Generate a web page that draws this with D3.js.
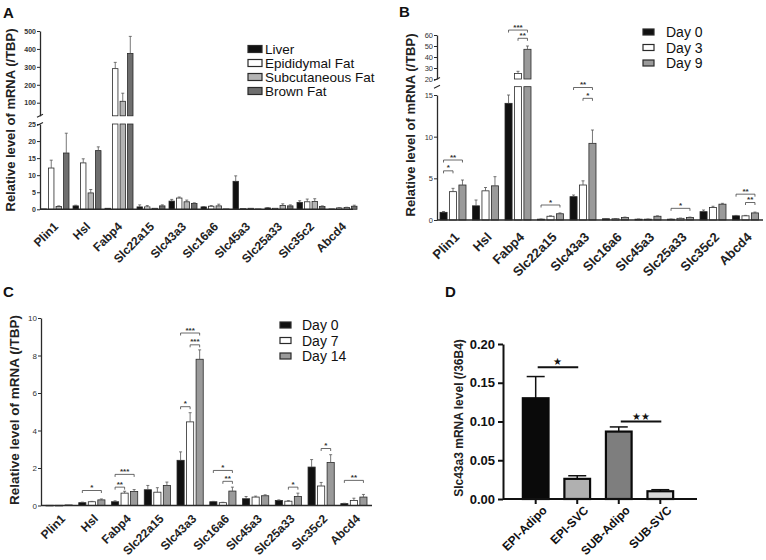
<!DOCTYPE html>
<html><head><meta charset="utf-8">
<script src="https://cdn.jsdelivr.net/npm/d3@7"></script>
<style>
body{margin:0;background:#fff;}
text{font-family:Arial,"Liberation Sans",sans-serif;}
</style></head><body>
<svg id="chart" width="766" height="560"></svg>
<script>
// ---------- DATA ----------
const genes = ["Plin1","Hsl","Fabp4","Slc22a15","Slc43a3","Slc16a6","Slc45a3","Slc25a33","Slc35c2","Abcd4"];

// Panel A: tissues
const tissuesA = ["Liver","Epididymal Fat","Subcutaneous Fat","Brown Fat"];
const liverA    = [0.1, 1.0, 0.3, 0.7, 2.4, 0.7, 8.2, 0.4, 2.0, 0.1];
const liverSemA = [0, 0.2, 0, 0.6, 0.5, 0.1, 1.6, 0.1, 0.5, 0];
const epiA      = [12.1, 13.6, 290, 0.7, 3.3, 0.9, 0.2, 0.3, 2.2, 0.4];
const epiSemA   = [2.3, 1.2, 35, 0.4, 0.3, 0.2, 0, 0, 0.8, 0.1];
const subA      = [0.8, 4.8, 108, 0.3, 2.2, 1.0, 0.3, 1.1, 2.3, 0.5];
const subSemA   = [0.2, 1.0, 45, 0, 0.5, 0.5, 0, 0.5, 0.8, 0.1];
const brownA    = [16.5, 17.2, 375, 1.0, 1.7, 0.1, 0.1, 1.0, 0.8, 0.9];
const brownSemA = [5.8, 1.1, 95, 0.3, 0.2, 0, 0, 0.3, 0.2, 0.3];
const ticksA_low = [0,5,10,15,20,25];
const ticksA_up  = [100,200,300,400,500];

// Panel B: differentiation days
const daysB = ["Day 0","Day 3","Day 9"];
const d0B    = [0.92, 1.7, 14.0, 0.1, 2.8, 0.15, 0.1, 0.1, 1.0, 0.5];
const d0SemB = [0.1, 0.7, 1.0, 0.02, 0.2, 0.03, 0.02, 0.02, 0.2, 0.05];
const d3B    = [3.4, 3.5, 25, 0.45, 4.2, 0.15, 0.1, 0.2, 1.5, 0.5];
const d3SemB = [0.4, 0.4, 2, 0.05, 0.5, 0.03, 0.02, 0.03, 0.15, 0.05];
const d9B    = [4.2, 4.1, 47, 0.75, 9.2, 0.3, 0.45, 0.3, 1.9, 0.85];
const d9SemB = [0.6, 1.1, 3, 0.1, 1.6, 0.05, 0.05, 0.05, 0.1, 0.1];
const ticksB_low = [0,5,10,15];
const ticksB_up  = [20,30,40,50,60];
const sigB = [
  {gene:"Plin1", a:0, b:1, y:5.9, label:"*"},
  {gene:"Plin1", a:0, b:2, y:7.2, label:"**"},
  {gene:"Fabp4", a:0, b:2, y:64.5, label:"***"},
  {gene:"Fabp4", a:1, b:2, y:57, label:"**"},
  {gene:"Slc22a15", a:0, b:2, y:1.8, label:"*"},
  {gene:"Slc43a3", a:0, b:2, y:15.9, label:"**"},
  {gene:"Slc43a3", a:1, b:2, y:14.6, label:"*"},
  {gene:"Slc25a33", a:0, b:2, y:1.4, label:"*"},
  {gene:"Abcd4", a:0, b:2, y:3.1, label:"**"},
  {gene:"Abcd4", a:1, b:2, y:2.1, label:"**"}
];

// Panel C
const daysC = ["Day 0","Day 7","Day 14"];
const d0C     = [0.01, 0.15, 0.2, 0.84, 2.41, 0.2, 0.36, 0.27, 2.05, 0.1];
const d0SemC  = [0, 0.03, 0.05, 0.23, 0.45, 0.02, 0.12, 0.03, 0.4, 0.02];
const d7C     = [0.01, 0.2, 0.66, 0.71, 4.46, 0.15, 0.45, 0.23, 1.04, 0.27];
const d7SemC  = [0, 0.02, 0.1, 0.24, 0.49, 0.02, 0.05, 0.03, 0.19, 0.12];
const d14C    = [0.03, 0.3, 0.75, 1.07, 7.8, 0.77, 0.52, 0.48, 2.29, 0.45];
const d14SemC = [0, 0.05, 0.1, 0.18, 0.5, 0.21, 0.05, 0.18, 0.42, 0.14];
const ticksC = [0,2,4,6,8,10];
const sigC = [
  {gene:"Hsl", a:0, b:2, y:0.8, label:"*"},
  {gene:"Fabp4", a:0, b:1, y:0.98, label:"**"},
  {gene:"Fabp4", a:0, b:2, y:1.66, label:"***"},
  {gene:"Slc43a3", a:0, b:1, y:5.27, label:"*"},
  {gene:"Slc43a3", a:0, b:2, y:9.2, label:"***"},
  {gene:"Slc43a3", a:1, b:2, y:8.57, label:"***"},
  {gene:"Slc16a6", a:0, b:2, y:1.87, label:"*"},
  {gene:"Slc16a6", a:1, b:2, y:1.29, label:"**"},
  {gene:"Slc25a33", a:1, b:2, y:0.98, label:"*"},
  {gene:"Slc35c2", a:1, b:2, y:3.04, label:"*"},
  {gene:"Abcd4", a:0, b:2, y:1.34, label:"**"}
];

// Panel D
const cellsD = ["EPI-Adipo","EPI-SVC","SUB-Adipo","SUB-SVC"];
const valD   = [0.130, 0.026, 0.087, 0.010];
const semD   = [0.028, 0.004, 0.006, 0.002];
const ticksD = [0, 0.05, 0.10, 0.15, 0.20];
const sigD = [
  {a:0, b:1, y:0.170, label:"★"},
  {a:2, b:3, y:0.100, label:"★★"}
];

// ---------- DRAW ----------
const svg = d3.select("#chart");
const INK = "#2a2a2a";

function panelLetter(t, x, y){
  svg.append("text").attr("x",x).attr("y",y).text(t)
    .attr("font-size",15).attr("font-weight","bold").attr("fill","#111");
}
function yTitle(t, x, y, size){
  svg.append("text").attr("transform",`translate(${x},${y}) rotate(-90)`)
    .attr("text-anchor","middle").attr("font-size",size).attr("font-weight","bold")
    .attr("fill","#222").text(t);
}

function drawGrouped(o){
  const g = svg.append("g");
  const x0 = d3.scaleBand().domain(genes).range(o.xRange).paddingInner(o.padInner).paddingOuter(0);
  const x1 = d3.scaleBand().domain(d3.range(o.series.length)).range([0,x0.bandwidth()]).paddingInner(o.padBar).paddingOuter(0);
  const segOf = v => { for (const s of o.segs) if (v <= s.hi) return s; return o.segs[o.segs.length-1]; };
  // bars
  o.series.forEach((name,j)=>{
    genes.forEach((gene,i)=>{
      const v = o.vals[j][i];
      const bx = x0(gene)+x1(j);
      o.segs.forEach(s=>{
        if (v > s.lo){
          const top = Math.min(v, s.hi);
          g.append("rect").attr("x",bx).attr("width",x1.bandwidth())
            .attr("y",s.scale(top)).attr("height",Math.max(0.6, s.scale(s.lo)-s.scale(top)))
            .attr("fill",o.fills[j]).attr("stroke",INK).attr("stroke-width",0.8);
        }
      });
      const sem = o.sems[j][i];
      if (sem > 0){
        const s = segOf(v);
        const cx = bx + x1.bandwidth()/2;
        g.append("line").attr("x1",cx).attr("x2",cx).attr("y1",s.scale(v)).attr("y2",s.scale(v+sem))
          .attr("stroke","#555").attr("stroke-width",0.8);
        g.append("line").attr("x1",cx-1.5).attr("x2",cx+1.5).attr("y1",s.scale(v+sem)).attr("y2",s.scale(v+sem))
          .attr("stroke","#555").attr("stroke-width",0.8);
      }
    });
  });
  // y axes per segment
  o.segs.forEach(s=>{
    const ax = g.append("g").attr("transform",`translate(${o.axisX},0)`)
      .call(d3.axisLeft(s.scale).tickValues(s.ticks).tickSize(3).tickSizeOuter(0).tickFormat(d3.format("d")));
    ax.select(".domain").attr("stroke",INK).attr("stroke-width",1.3);
    ax.selectAll(".tick line").attr("stroke",INK).attr("stroke-width",1);
    ax.selectAll(".tick text").attr("font-size",o.tickSize).attr("font-weight",o.tickWeight)
      .attr("fill","#333").attr("x",-4).attr("font-family","Arial,'Liberation Sans',sans-serif");
  });
  // break marks
  if (o.segs.length>1){
    [o.segs[0].scale(o.segs[0].hi), o.segs[1].scale(o.segs[1].lo)].forEach(yb=>{
      g.append("line").attr("x1",o.axisX-3).attr("x2",o.axisX+3).attr("y1",yb+1.5).attr("y2",yb-1.5)
        .attr("stroke",INK).attr("stroke-width",1.2);
    });
  }
  // x axis line
  const y0 = o.segs[0].scale(0);
  g.append("line").attr("x1",o.axisX).attr("x2",o.axisEnd).attr("y1",y0).attr("y2",y0)
    .attr("stroke",INK).attr("stroke-width",1.5);
  // category labels
  genes.forEach(gene=>{
    const cx = x0(gene)+x0.bandwidth()/2;
    g.append("text").attr("transform",`translate(${cx+o.lblDx},${y0+o.lblDy}) rotate(-45)`)
      .attr("text-anchor","end").attr("font-size",o.lblSize).attr("font-weight","bold")
      .attr("fill","#222").text(gene);
  });
  // significance brackets
  (o.sig||[]).forEach(sg=>{
    const xa = x0(sg.gene)+x1(sg.a)+x1.bandwidth()/2;
    const xb = x0(sg.gene)+x1(sg.b)+x1.bandwidth()/2;
    const yy = segOf(sg.y).scale(sg.y);
    g.append("path").attr("d",`M${xa},${yy+2.5}V${yy}H${xb}V${yy+2.5}`)
      .attr("fill","none").attr("stroke","#444").attr("stroke-width",0.8);
    g.append("text").attr("x",(xa+xb)/2).attr("y",yy-0.5).attr("text-anchor","middle")
      .attr("font-size",8).attr("font-weight","bold").attr("fill","#333").text(sg.label);
  });
  // legend
  o.series.forEach((name,j)=>{
    const ly = o.leg.y + j*o.leg.dy;
    g.append("rect").attr("x",o.leg.x).attr("y",ly-o.leg.h/2).attr("width",o.leg.w).attr("height",o.leg.h)
      .attr("fill",o.fills[j]).attr("stroke",INK).attr("stroke-width",1.2);
    g.append("text").attr("x",o.leg.tx).attr("y",ly).attr("dy","0.36em")
      .attr("font-size",o.leg.fs).attr("fill","#111").text(name);
  });
}

// ----- Panel A -----
panelLetter("A", 3, 18);
yTitle("Relative level of mRNA (/TBP)", 15, 120, 13);
drawGrouped({
  series: tissuesA,
  vals: [liverA, epiA, subA, brownA],
  sems: [liverSemA, epiSemA, subSemA, brownSemA],
  fills: ["#111","#fff","#b4b4b4","#6e6e6e"],
  xRange: [41, 357], padInner: 0.125, padBar: 0.28,
  segs: [
    {lo:0, hi:25, scale:d3.scaleLinear().domain([0,25]).range([209.3,124]), ticks:ticksA_low},
    {lo:27, hi:500, scale:d3.scaleLinear().domain([27,500]).range([115.8,31]), ticks:ticksA_up}
  ],
  axisX: 40, axisEnd: 353,
  tickSize: 7, tickWeight: "bold",
  lblDx: 4, lblDy: 18, lblSize: 12,
  leg: {x:248, y:49, dy:14, w:14, h:7, tx:265, fs:13.5}
});

// ----- Panel B -----
panelLetter("B", 399, 17);
yTitle("Relative level of mRNA (/TBP)", 415, 125, 13);
drawGrouped({
  series: daysB,
  vals: [d0B, d3B, d9B],
  sems: [d0SemB, d3SemB, d9SemB],
  fills: ["#111","#fff","#9a9a9a"],
  xRange: [440, 758.5], padInner: 0.2, padBar: 0.25,
  segs: [
    {lo:0, hi:16, scale:d3.scaleLinear().domain([0,15]).range([220,95]), ticks:ticksB_low},
    {lo:20, hi:60, scale:d3.scaleLinear().domain([20,60]).range([79,35]), ticks:ticksB_up}
  ],
  axisX: 437, axisEnd: 763,
  tickSize: 7.5, tickWeight: "normal",
  lblDx: 7, lblDy: 18, lblSize: 13,
  sig: sigB,
  leg: {x:643, y:32, dy:15.5, w:11, h:6, tx:666, fs:14}
});

// ----- Panel C -----
panelLetter("C", 3, 297);
yTitle("Relative level of mRNA (/TBP)", 19, 410, 13.5);
drawGrouped({
  series: daysC,
  vals: [d0C, d7C, d14C],
  sems: [d0SemC, d7SemC, d14SemC],
  fills: ["#111","#fff","#9a9a9a"],
  xRange: [46, 367], padInner: 0.2, padBar: 0.25,
  segs: [
    {lo:0, hi:10, scale:d3.scaleLinear().domain([0,10]).range([505.5,318]), ticks:ticksC}
  ],
  axisX: 41, axisEnd: 372,
  tickSize: 8, tickWeight: "normal",
  lblDx: 7, lblDy: 14, lblSize: 12,
  sig: sigC,
  leg: {x:280, y:325, dy:15.5, w:11, h:6, tx:302, fs:14}
});

// ----- Panel D -----
panelLetter("D", 445, 297);
yTitle("Slc43a3 mRNA level (/36B4)", 462.5, 418, 12);
(function(){
  const g = svg.append("g");
  const x = d3.scaleBand().domain(cellsD).range([508, 688]).padding(1/3);
  const y = d3.scaleLinear().domain([0,0.20]).range([499,344]);
  const fills = ["#0a0a0a","#b0b0b0","#7e7e7e","#d9d9d9"];
  cellsD.forEach((c,i)=>{
    const cx = x(c)+x.bandwidth()/2;
    g.append("line").attr("x1",cx).attr("x2",cx).attr("y1",y(valD[i])).attr("y2",y(valD[i]+semD[i]))
      .attr("stroke","#111").attr("stroke-width",1.5);
    g.append("line").attr("x1",cx-9).attr("x2",cx+9).attr("y1",y(valD[i]+semD[i])).attr("y2",y(valD[i]+semD[i]))
      .attr("stroke","#111").attr("stroke-width",1.5);
    g.append("rect").attr("x",x(c)+1).attr("width",x.bandwidth()-2)
      .attr("y",y(valD[i])).attr("height",y(0)-y(valD[i]))
      .attr("fill",fills[i]).attr("stroke","#0a0a0a").attr("stroke-width",2.2);
  });
  const ya = g.append("g").attr("transform","translate(503,0)")
    .call(d3.axisLeft(y).tickValues(ticksD).tickSize(5).tickSizeOuter(0).tickFormat(d3.format(".2f")));
  ya.select(".domain").attr("stroke","#111").attr("stroke-width",2);
  ya.selectAll(".tick line").attr("stroke","#111").attr("stroke-width",2);
  ya.selectAll(".tick text").attr("font-size",13).attr("font-weight","bold").attr("fill","#111")
    .attr("x",-8).attr("font-family","Arial,'Liberation Sans',sans-serif");
  const xa = g.append("g").attr("transform","translate(0,499)")
    .call(d3.axisBottom(x).tickSize(5).tickSizeOuter(0).tickFormat(""));
  xa.select(".domain").attr("d","M503,0H697").attr("stroke","#111").attr("stroke-width",2);
  xa.selectAll(".tick line").attr("stroke","#111").attr("stroke-width",2);
  cellsD.forEach(c=>{
    const cx = x(c)+x.bandwidth()/2;
    g.append("text").attr("transform",`translate(${cx+12},${499+12}) rotate(-45)`)
      .attr("text-anchor","end").attr("font-size",12).attr("font-weight","bold").attr("fill","#111").text(c);
  });
  sigD.forEach(s=>{
    const xa1 = x(cellsD[s.a])+x.bandwidth()/2+2;
    const xb1 = x(cellsD[s.b])+x.bandwidth()/2+1;
    g.append("line").attr("x1",xa1).attr("x2",xb1).attr("y1",y(s.y)).attr("y2",y(s.y))
      .attr("stroke","#111").attr("stroke-width",1.8);
    g.append("text").attr("x",(xa1+xb1)/2).attr("y",y(s.y)-2).attr("text-anchor","middle")
      .attr("font-size",10).attr("fill","#111").attr("font-family","DejaVu Sans").text(s.label);
  });
})();
</script>
</body></html>
